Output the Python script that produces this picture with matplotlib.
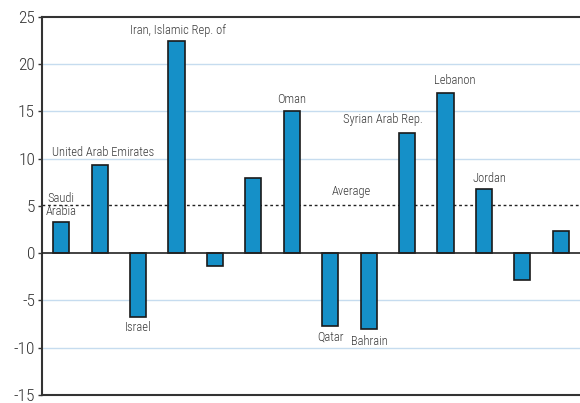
import numpy as np
import matplotlib.pyplot as plt
from matplotlib import font_manager as fm

# pick a condensed face similar to the original
available = {f.name for f in fm.fontManager.ttflist}
candidates = ['Roboto Condensed', 'Archivo Narrow', 'PT Sans Narrow', 'Liberation Sans Narrow',
              'Fira Sans Condensed', 'IBM Plex Sans Condensed', 'Asap Condensed',
              'Encode Sans Condensed', 'Barlow Semi Condensed', 'Pragati Narrow']
chosen = [c for c in candidates if c in available][:1]
plt.rcParams['font.family'] = chosen + ['DejaVu Sans']

# Values (percent)
values = [3.3, 9.3, -6.8, 22.4, -1.4, 8.0, 15.0, -7.7, -8.0, 12.7, 17.0, 6.8, -2.8, 2.3]
average = 5.1
yticks = [-15, -10, -5, 0, 5, 10, 15, 20, 25]

# Country labels: (text, x, y) in data units
labels = [
    ('Saudi\nArabia', 0.0, 5.1),
    ('United Arab Emirates', 1.1, 10.7),
    ('Israel', 2.0, -7.9),
    ('Iran, Islamic Rep. of', 3.03, 23.6),
    ('Oman', 6.0, 16.3),
    ('Qatar', 7.0, -8.9),
    ('Bahrain', 8.03, -9.3),
    ('Syrian Arab Rep.', 8.37, 14.1),
    ('Lebanon', 10.23, 18.3),
    ('Jordan', 11.14, 7.9),
    ('Average', 7.56, 6.5),
]

fig = plt.figure(figsize=(5.8, 4.03), dpi=100)
ax = fig.add_axes([0.0724, 0.02, 0.9276, 0.938])

x = np.arange(len(values))
for g in [-10, -5, 10, 15, 20]:
    ax.axhline(g, color='#c6dcef', lw=1.0, zorder=0)
ax.bar(x, values, width=0.42, color='#1590c8', edgecolor='#1a1a1a', lw=1.2, zorder=3)
ax.axhline(0, color='#222222', lw=1.2, zorder=4)
ax.axhline(average, color='#222222', lw=1.0, ls=(0, (2, 2)), zorder=2)

for txt, tx, ty in labels:
    ax.text(tx, ty, txt, ha='center', va='center', fontsize=9, color='#3a3a3a',
            fontweight='light', linespacing=1.0, zorder=5)

ax.set_xlim(-0.5, len(values) - 0.5)
ax.set_ylim(-15, 25)
ax.set_yticks(yticks)
ax.set_yticklabels([str(t) for t in yticks], fontsize=12.5, color='#333333',
                   fontweight='light')
ax.set_xticks([])
ax.tick_params(axis='y', length=3, width=1, color='#333333', pad=2)
for s in ['top', 'bottom', 'left']:
    ax.spines[s].set_color('#333333')
    ax.spines[s].set_linewidth(1.5)
ax.spines['right'].set_visible(False)

fig.savefig('out.png', dpi=100)
